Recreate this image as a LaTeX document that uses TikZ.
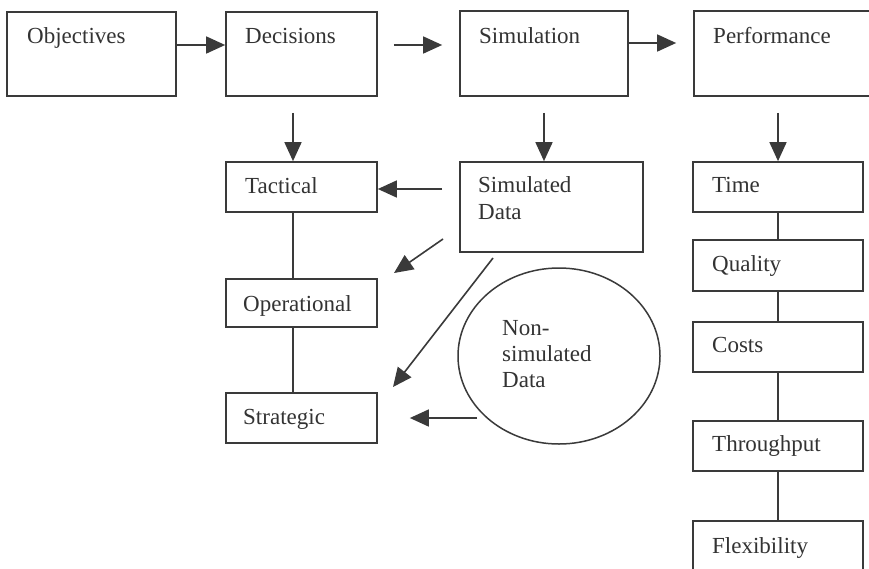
\documentclass[tikz,border=0pt]{standalone}
\usepackage{fontspec}
\setmainfont{Liberation Serif}
\usetikzlibrary{arrows.meta,shapes.geometric}
\definecolor{ink}{HTML}{3A3A3A}
\definecolor{txt}{HTML}{333333}
\tikzset{
  box/.style={draw=ink, line width=1.7pt, rectangle, inner sep=0pt},
  lbl/.style={anchor=base west, inner sep=0pt, text=txt, font=\fontsize{23}{27}\selectfont},
  arr/.style={draw=ink, line width=1.6pt, -{Triangle[length=19pt,width=17pt]}},
  link/.style={draw=ink, line width=1.6pt},
}
\begin{document}
\begin{tikzpicture}[x=1pt,y=-1pt]
\clip (0,0) rectangle (869,568);
\fill[white] (0,0) rectangle (869,568);
% boxes
\node[box, minimum width=169pt, minimum height=84pt] (obj) at (91.5,54) {};
\node[box, minimum width=151pt, minimum height=84pt] (dec) at (301.5,54) {};
\node[box, minimum width=168pt, minimum height=85pt] (sim) at (544,53.5) {};
\node[box, minimum width=191pt, minimum height=85pt] (perf) at (789.5,53.5) {};
\node[box, minimum width=151pt, minimum height=50pt] (tac) at (301.5,187) {};
\node[box, minimum width=183pt, minimum height=90pt] (sd) at (551.5,207) {};
\node[box, minimum width=151pt, minimum height=48pt] (op) at (301.5,303) {};
\node[box, minimum width=151pt, minimum height=50pt] (str) at (301.5,418) {};
\node[box, minimum width=170pt, minimum height=50pt] (time) at (778,187) {};
\node[box, minimum width=170pt, minimum height=51pt] (qual) at (778,265.5) {};
\node[box, minimum width=170pt, minimum height=50pt] (cost) at (778,347) {};
\node[box, minimum width=170pt, minimum height=50pt] (thr) at (778,446) {};
\node[box, minimum width=170pt, minimum height=69pt] (flex) at (778,555.5) {};
\node[ellipse, draw=ink, line width=1.5pt, minimum width=202pt, minimum height=176pt, inner sep=0pt] (nsd) at (559,356) {};
% texts
\node[lbl] (tobj) at (27,43) {Objectives};
\node[lbl] (tdec) at (245,43) {Decisions};
\node[lbl] (tsim) at (479,43) {Simulation};
\node[lbl] (tperf) at (713,43) {Performance};
\node[lbl] (ttac) at (245,193) {Tactical};
\node[lbl] (tsd1) at (478,192) {Simulated};
\node[lbl] (tsd2) at (478,219) {Data};
\node[lbl] (top) at (243,311) {Operational};
\node[lbl] (tstr) at (243,424) {Strategic};
\node[lbl] (tn1) at (502,335) {Non-};
\node[lbl] (tn2) at (502,361) {simulated};
\node[lbl] (tn3) at (502,387) {Data};
\node[lbl] (ttime) at (712,192) {Time};
\node[lbl] (tqual) at (712,271) {Quality};
\node[lbl] (tcost) at (712,352) {Costs};
\node[lbl] (tthr) at (712,451) {Throughput};
\node[lbl] (tflex) at (712,553) {Flexibility};
% top row arrows
\draw[arr] ([yshift=9pt]obj.east) -- ([yshift=9pt]dec.west);
\draw[arr, shorten <=16pt, shorten >=17pt] ([yshift=9pt]dec.east) -- ([yshift=9pt]sim.west |- dec.east);
\draw[arr, shorten >=17pt] ([yshift=10.5pt]sim.east) -- ([yshift=10.5pt]perf.west);
% down arrows
\draw[arr, shorten <=16pt] ([xshift=-8.5pt]dec.south) -- ([xshift=-8.5pt]tac.north);
\draw[arr, shorten <=16pt] (sim.south) -- (sim.south |- sd.north);
\draw[arr, shorten <=16pt] (time.north |- perf.south) -- (time.north);
% decisions column links
\draw[link] ([xshift=-8.5pt]tac.south) -- ([xshift=-8.5pt]op.north);
\draw[link] ([xshift=-8.5pt]op.south) -- ([xshift=-8.5pt]str.north);
% performance column links
\draw[link] (time.south) -- (qual.north);
\draw[link] (qual.south) -- (cost.north);
\draw[link] (cost.south) -- (thr.north);
\draw[link] (thr.south) -- (flex.north);
% data arrows
\draw[arr, shorten <=17pt] ([yshift=18pt]sd.west) -- ([yshift=-2pt]tac.east);
\coordinate (d1s) at (443,239);
\coordinate (d1e) at (394,273);
\draw[arr] (d1s) -- (d1e);
\coordinate (d2s) at (493,258);
\coordinate (d2e) at (393,387);
\draw[arr] (d2s) -- (d2e);
\coordinate (nsdS) at (477,418);
\draw[arr, shorten >=32pt] (nsdS) -- (str.east);
\end{tikzpicture}
\end{document}
